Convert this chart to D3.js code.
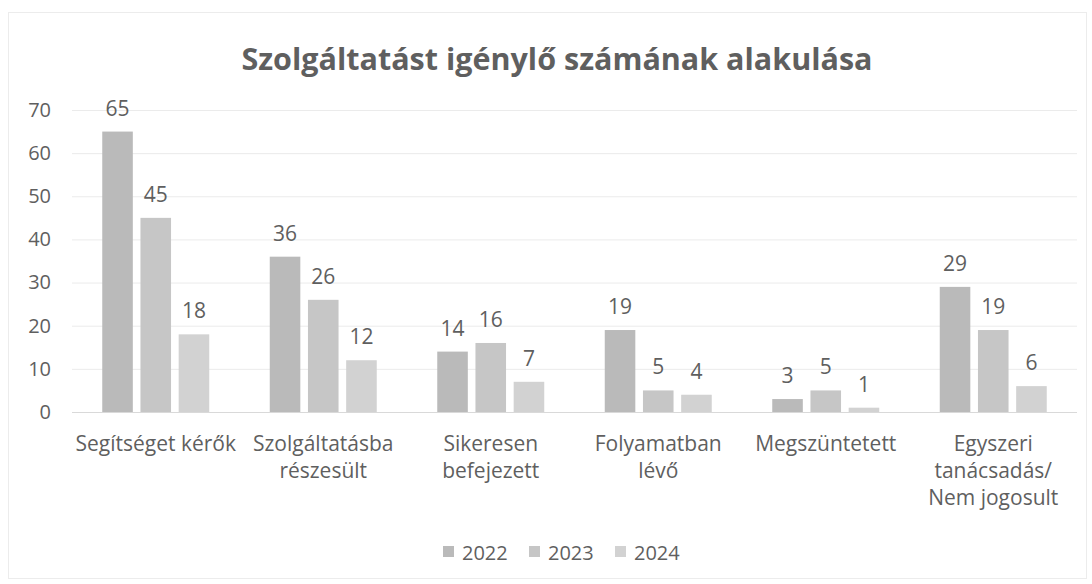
<!DOCTYPE html>
<html lang="hu">
<head>
<meta charset="UTF-8">
<style>
  body { margin: 0; background: #fff; }
  svg text { font-family: "Open Sans", "Noto Sans", sans-serif; fill: #5f5f5f; }
</style>
</head>
<body>
<svg id="chart" width="1092" height="584"></svg>
<script src="https://d3js.org/d3.v7.min.js"></script>
<script>
// data
var categories = [
  ["Segítséget kérők"],
  ["Szolgáltatásba", "részesült"],
  ["Sikeresen", "befejezett"],
  ["Folyamatban", "lévő"],
  ["Megszüntetett"],
  ["Egyszeri", "tanácsadás/", "Nem jogosult"]
];
var years = ["2022", "2023", "2024"];
var values2022 = [65, 36, 14, 19, 3, 29];
var values2023 = [45, 26, 16, 5, 5, 19];
var values2024 = [18, 12, 7, 4, 1, 6];
var yTicks = [0, 10, 20, 30, 40, 50, 60, 70];
var colors = ["#bababa", "#c6c6c6", "#d2d2d2"];

var series = [values2022, values2023, values2024];

var svg = d3.select("#chart");
var margin = { left: 72, right: 15 };
var width = 1092;

// border
svg.append("rect")
  .attr("x", 8.5).attr("y", 12.5)
  .attr("width", 1078).attr("height", 566)
  .attr("fill", "none").attr("stroke", "#ececec");

// title
svg.append("text")
  .attr("x", 557).attr("y", 70)
  .attr("text-anchor", "middle")
  .style("font-size", "30.5px").style("font-weight", "bold")
  .text("Szolgáltatást igénylő számának alakulása");

var x0 = d3.scaleBand()
  .domain(d3.range(categories.length))
  .range([margin.left, width - margin.right])
  .paddingInner(0.27).paddingOuter(0.135);

var x1 = d3.scaleBand()
  .domain(years)
  .range([0, x0.bandwidth()])
  .padding(0.2);

var y = d3.scaleLinear()
  .domain([0, 70])
  .range([412, 110]);

// gridlines
svg.append("g").selectAll("line")
  .data(yTicks)
  .enter().append("line")
    .attr("x1", margin.left).attr("x2", width - margin.right)
    .attr("y1", function(d) { return y(d) + 0.5; })
    .attr("y2", function(d) { return y(d) + 0.5; })
    .attr("stroke", function(d) { return d === 0 ? "#d9d9d9" : "#ebebeb"; })
    .attr("stroke-width", 1);

// y tick labels
var yAxis = d3.axisLeft(y).tickValues(yTicks).tickSize(0).tickPadding(0);
var ya = svg.append("g").attr("transform", "translate(51,0)").call(yAxis);
ya.select(".domain").remove();
ya.selectAll("text").style("font-size", "20px").attr("fill", "#5f5f5f")
  .style("font-family", "\"Open Sans\", sans-serif");

// bars
var groups = svg.append("g").selectAll("g")
  .data(categories)
  .enter().append("g")
    .attr("transform", function(d, i) { return "translate(" + x0(i) + ",0)"; });

groups.selectAll("rect")
  .data(function(d, i) { return years.map(function(yr, k) { return { yr: yr, k: k, v: series[k][i] }; }); })
  .enter().append("rect")
    .attr("x", function(d) { return x1(d.yr); })
    .attr("y", function(d) { return y(d.v); })
    .attr("width", x1.bandwidth())
    .attr("height", function(d) { return y(0) - y(d.v); })
    .attr("fill", function(d) { return colors[d.k]; });

groups.selectAll("text.val")
  .data(function(d, i) { return years.map(function(yr, k) { return { yr: yr, k: k, v: series[k][i] }; }); })
  .enter().append("text")
    .attr("class", "val")
    .attr("x", function(d) { return x1(d.yr) + x1.bandwidth() / 2; })
    .attr("y", function(d) { return y(d.v) - 16; })
    .attr("text-anchor", "middle")
    .style("font-size", "21px")
    .text(function(d) { return d.v; });

// category labels
var cat = svg.append("g").selectAll("text")
  .data(categories)
  .enter().append("text")
    .attr("x", function(d, i) { return x0(i) + x0.bandwidth() / 2; })
    .attr("y", 451)
    .attr("text-anchor", "middle")
    .style("font-size", "21px");
cat.selectAll("tspan")
  .data(function(d) { return d; })
  .enter().append("tspan")
    .attr("x", function() { return d3.select(this.parentNode).attr("x"); })
    .attr("dy", function(d, i) { return i === 0 ? 0 : 27; })
    .text(function(d) { return d; });

// legend
var legend = svg.append("g").selectAll("g")
  .data(years)
  .enter().append("g")
    .attr("transform", function(d, i) { return "translate(" + (443 + i * 86) + ",560)"; });
legend.append("rect")
  .attr("x", 0).attr("y", -14)
  .attr("width", 11).attr("height", 11)
  .attr("fill", function(d, i) { return colors[i]; });
legend.append("text")
  .attr("x", 19).attr("y", 0)
  .style("font-size", "20px")
  .text(function(d) { return d; });
</script>
</body>
</html>
